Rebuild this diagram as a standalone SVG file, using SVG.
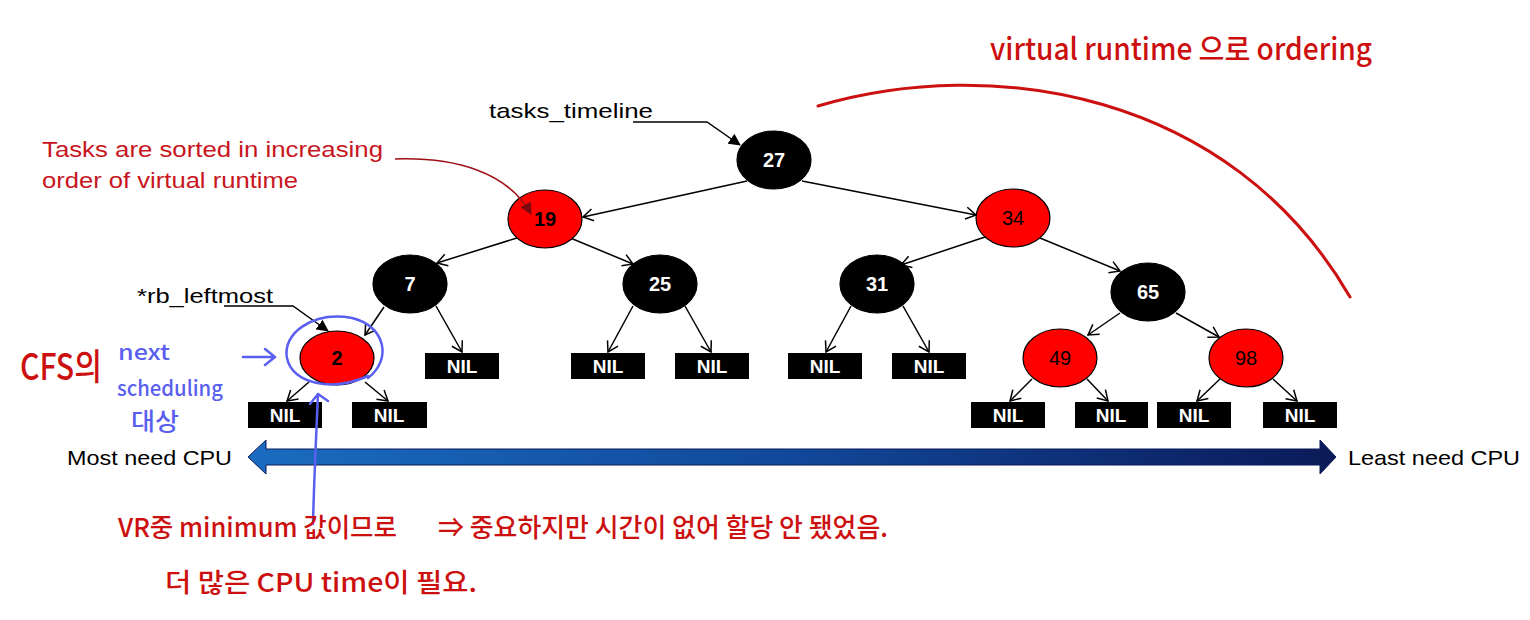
<svg xmlns="http://www.w3.org/2000/svg" width="1530" height="620" viewBox="0 0 1530 620">
<defs>
<style>
.blk{fill:#000;stroke:#000;stroke-width:1.2}
.red{fill:#ff0000;stroke:#000;stroke-width:1.2}
.nil{fill:#000}
.lblw{font-family:"Liberation Sans",Arial,sans-serif;font-weight:bold;font-size:20px;fill:#fff;text-anchor:middle}
.lblb{font-family:"Liberation Sans",Arial,sans-serif;font-size:20px;fill:#000;text-anchor:middle}
.niltxt{font-family:"Liberation Sans",Arial,sans-serif;font-weight:bold;font-size:19px;fill:#fff;text-anchor:middle}
.edge{fill:none;stroke:#000;stroke-width:1.5;marker-end:url(#open)}
.ptr{fill:none;stroke:#000;stroke-width:1.5;marker-end:url(#solid)}
.typed{font-family:"Liberation Sans",Arial,sans-serif;font-size:21px;fill:#000}
.typedred{font-family:"Liberation Sans",Arial,sans-serif;font-size:22px;fill:#c8161e}
.hred{font-family:"Noto Sans CJK KR","Noto Sans",sans-serif;font-weight:500;fill:#cc1010}
.hblue{font-family:"Noto Sans CJK KR","Noto Sans",sans-serif;font-weight:500;fill:#5a5ff0}
.bluestroke{fill:none;stroke:#5a5ff0;stroke-width:2.5;stroke-linecap:round;stroke-linejoin:round}
</style>
<marker id="open" viewBox="0 0 12 14" refX="11" refY="7" markerWidth="12" markerHeight="14" markerUnits="userSpaceOnUse" orient="auto">
<path d="M1,1 L11,7 L1,13" fill="none" stroke="#000" stroke-width="1.5"/>
</marker>
<marker id="solid" viewBox="0 0 12 12" refX="11" refY="6" markerWidth="12" markerHeight="12" markerUnits="userSpaceOnUse" orient="auto">
<path d="M0,0 L12,6 L0,12 Z" fill="#000"/>
</marker>
<marker id="redhead" viewBox="0 0 12 12" refX="11" refY="6" markerWidth="12" markerHeight="12" markerUnits="userSpaceOnUse" orient="auto">
<path d="M0,0 L12,6 L0,12 Z" fill="#7a0a10"/>
</marker>
<linearGradient id="bar" x1="0" y1="0" x2="1" y2="0">
<stop offset="0" stop-color="#1a6cc0"/>
<stop offset="0.5" stop-color="#11489a"/>
<stop offset="1" stop-color="#0b1a58"/>
</linearGradient>
</defs>

<!-- connectors -->
<g id="connectors">
<path class="edge" d="M747,181 L583,217"/>
<path class="edge" d="M802,181 L976,215"/>
<path class="edge" d="M520,237 L437,263"/>
<path class="edge" d="M568,237 L633,264"/>
<path class="edge" d="M985,237 L901,265"/>
<path class="edge" d="M1040,238 L1120,271"/>
<path class="edge" d="M384,307 L365,335"/>
<path class="edge" d="M436,306 L462,352"/>
<path class="edge" d="M633,306 L608,352"/>
<path class="edge" d="M685,306 L711,352"/>
<path class="edge" d="M851,306 L826,352"/>
<path class="edge" d="M903,306 L929,352"/>
<path class="edge" d="M1120,313 L1088,335"/>
<path class="edge" d="M1176,313 L1219,337"/>
<path class="edge" d="M309,382 L287,401"/>
<path class="edge" d="M365,382 L388,401"/>
<path class="edge" d="M1032,379 L1010,401"/>
<path class="edge" d="M1087,379 L1108,401"/>
<path class="edge" d="M1220,379 L1197,401"/>
<path class="edge" d="M1273,379 L1297,401"/>
<path class="ptr" d="M633,122 L707,122 L740,145"/>
<path class="ptr" d="M224,306 L293,306 L328,331"/>
</g>

<!-- tree nodes -->
<g id="node-27"><ellipse class="blk" cx="774" cy="160" rx="37" ry="29"/><text class="lblw" x="774" y="167">27</text></g>
<g id="node-19"><ellipse class="red" cx="545" cy="219" rx="37" ry="29"/><text class="lblb" x="545" y="226" font-weight="bold">19</text></g>
<g id="node-34"><ellipse class="red" cx="1013" cy="218" rx="37" ry="29"/><text class="lblb" x="1013" y="225">34</text></g>
<g id="node-7"><ellipse class="blk" cx="410" cy="284" rx="37" ry="29"/><text class="lblw" x="410" y="291">7</text></g>
<g id="node-25"><ellipse class="blk" cx="660" cy="284" rx="37" ry="29"/><text class="lblw" x="660" y="291">25</text></g>
<g id="node-31"><ellipse class="blk" cx="877" cy="284" rx="37" ry="29"/><text class="lblw" x="877" y="291">31</text></g>
<g id="node-65"><ellipse class="blk" cx="1148" cy="292" rx="37" ry="29"/><text class="lblw" x="1148" y="299">65</text></g>
<g id="node-2"><ellipse class="red" cx="337" cy="358" rx="37" ry="27"/><text class="lblb" x="337" y="365" font-weight="bold">2</text></g>
<g id="node-49"><ellipse class="red" cx="1060" cy="358" rx="37" ry="29"/><text class="lblb" x="1060" y="365">49</text></g>
<g id="node-98"><ellipse class="red" cx="1246" cy="358" rx="37" ry="29"/><text class="lblb" x="1246" y="365">98</text></g>

<g id="nil-7r"><rect class="nil" x="425" y="353" width="74" height="26"/><text class="niltxt" x="462" y="373">NIL</text></g>
<g id="nil-25l"><rect class="nil" x="571" y="353" width="74" height="26"/><text class="niltxt" x="608" y="373">NIL</text></g>
<g id="nil-25r"><rect class="nil" x="675" y="353" width="74" height="26"/><text class="niltxt" x="712" y="373">NIL</text></g>
<g id="nil-31l"><rect class="nil" x="788" y="353" width="74" height="26"/><text class="niltxt" x="825" y="373">NIL</text></g>
<g id="nil-31r"><rect class="nil" x="892" y="353" width="74" height="26"/><text class="niltxt" x="929" y="373">NIL</text></g>
<g id="nil-2l"><rect class="nil" x="248" y="402" width="74" height="26"/><text class="niltxt" x="285" y="422">NIL</text></g>
<g id="nil-2r"><rect class="nil" x="352" y="402" width="75" height="26"/><text class="niltxt" x="389" y="422">NIL</text></g>
<g id="nil-49l"><rect class="nil" x="971" y="402" width="74" height="26"/><text class="niltxt" x="1008" y="422">NIL</text></g>
<g id="nil-49r"><rect class="nil" x="1075" y="402" width="73" height="26"/><text class="niltxt" x="1111" y="422">NIL</text></g>
<g id="nil-98l"><rect class="nil" x="1157" y="402" width="74" height="26"/><text class="niltxt" x="1194" y="422">NIL</text></g>
<g id="nil-98r"><rect class="nil" x="1263" y="402" width="74" height="26"/><text class="niltxt" x="1300" y="422">NIL</text></g>

<!-- red callout arrow (drawn over node 19) -->
<g id="callout-arrow">
<path d="M395,159 C455,157 508,172 531,214" fill="none" stroke="#a01018" stroke-width="1.6" marker-end="url(#redhead)"/>
</g>

<!-- labels -->
<g id="label-tasks-timeline"><text class="typed" x="489" y="118" textLength="164" lengthAdjust="spacingAndGlyphs">tasks_timeline</text></g>
<g id="label-rb-leftmost"><text class="typed" x="137" y="303" textLength="136" lengthAdjust="spacingAndGlyphs">*rb_leftmost</text></g>
<g id="label-sorted">
<text class="typedred" x="42" y="157" textLength="341" lengthAdjust="spacingAndGlyphs">Tasks are sorted in increasing</text>
<text class="typedred" x="42" y="188" textLength="256" lengthAdjust="spacingAndGlyphs">order of virtual runtime</text>
</g>

<!-- CPU need axis -->
<g id="cpu-axis">
<polygon points="248,457 266,440 266,449 1320,449 1320,440 1336,457 1320,474 1320,465 266,465 266,474" fill="url(#bar)" stroke="#0a1a5a" stroke-width="1"/>
<text class="typed" x="67" y="465" font-size="20" textLength="165" lengthAdjust="spacingAndGlyphs">Most need CPU</text>
<text class="typed" x="1348" y="465" font-size="20" textLength="172" lengthAdjust="spacingAndGlyphs">Least need CPU</text>
</g>

<!-- handwritten annotations -->
<g id="note-ordering">
<text class="hred" x="990" y="60" font-size="30" textLength="382" lengthAdjust="spacingAndGlyphs">virtual runtime 으로 ordering</text>
<path d="M818,106 C990,55 1230,90 1350,297" fill="none" stroke="#cc1010" stroke-width="3" stroke-linecap="round"/>
</g>
<g id="note-cfs">
<text class="hred" x="20" y="380" font-size="36" textLength="82" lengthAdjust="spacingAndGlyphs">CFS의</text>
<text class="hblue" x="118" y="360" font-size="21" textLength="52" lengthAdjust="spacingAndGlyphs">next</text>
<text class="hblue" x="117" y="396" font-size="21" textLength="106" lengthAdjust="spacingAndGlyphs">scheduling</text>
<text class="hblue" x="131" y="430" font-size="24" textLength="48" lengthAdjust="spacingAndGlyphs">대상</text>
<path class="bluestroke" d="M243,357 L275,357 M265,349 L275,357 L265,365"/>
<path class="bluestroke" d="M368,378 C392,360 386,326 352,318 C312,311 282,334 287,358 C292,384 332,392 368,376"/>
<path class="bluestroke" d="M313,524 C314,480 316,440 318,394 M310,404 L318,394 L328,401"/>
</g>
<g id="note-minimum">
<text class="hred" x="118" y="537" font-size="26" textLength="279" lengthAdjust="spacingAndGlyphs">VR중 minimum 값이므로</text>
<text class="hred" x="438" y="537" font-size="26" textLength="450" lengthAdjust="spacingAndGlyphs">⇒ 중요하지만 시간이 없어 할당 안 됐었음.</text>
<text class="hred" x="165" y="592" font-size="26" textLength="312" lengthAdjust="spacingAndGlyphs">더 많은 CPU time이 필요.</text>
</g>
</svg>
